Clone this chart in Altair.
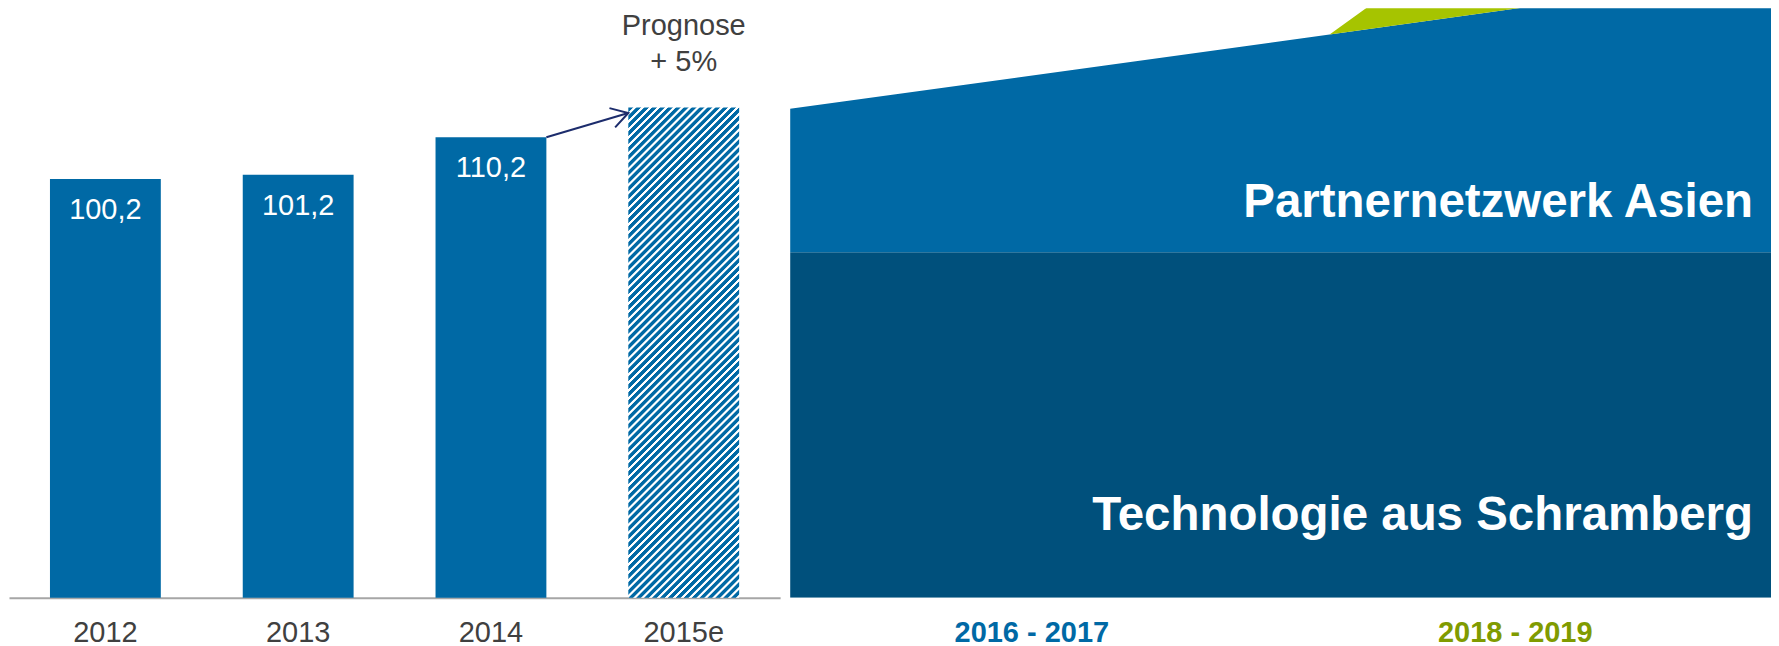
import math
import altair as alt
import pandas as pd

# ---------------- data ----------------
years = ["2012", "2013", "2014", "2015e"]
revenue = [100.2, 101.2, 110.2, 117.3]
is_forecast = [False, False, False, True]

forecast_note = "Prognose\n+ 5%"
arrow_from = "2014"
arrow_to = "2015e"
arrow_start = 110.2
arrow_end = 116.0

period_labels = ["2016 - 2017", "2018 - 2019"]
period_centers = [2017, 2019]

area_layers = ["Technologie aus Schramberg", "Partnernetzwerk Asien", "Ausbau"]
area_x = [2016, 2018.2, 2020]
tech_values = [82.7, 82.7, 82.7]
partner_values = [34.3, 52.1, 66.8]
green_values = [0.0, 0.0, 61.4]

# ---------------- style ----------------
FONT = "Liberation Sans"
BLUE = "#0069A5"
DARK = "#00507C"
GREEN = "#A6C400"
OLIVE = "#809B00"
LABEL_BLUE = "#0069A5"
GRAY_AXIS = "#A6A6A6"
TEXT = "#404040"
NAVY = "#1C2C6C"

Y_MAX = 141.05
PLOT_H = 590
LEFT_W = 772
RIGHT_W = 982
PAD_INNER = 0.425
PAD_OUTER = PAD_INNER / 2
LABEL_PAD = 21

# hatched fill for the forecast bar (diagonal stripes via a linear gradient)
px_per_unit = PLOT_H / Y_MAX
bar_w = (LEFT_W / len(years)) * (1 - PAD_INNER)
bar_h = revenue[-1] * px_per_unit
r = bar_w / bar_h
s = (r + 1) / (r * r + 1)
diag = (bar_w + bar_h) / math.sqrt(2)
n_stripes = int(round(diag / 5.6))
stops = []
for k in range(n_stripes):
    for frac, col in ((0.05, BLUE), (0.55, BLUE), (0.66, "#FFFFFF"), (0.94, "#FFFFFF")):
        stops.append(alt.GradientStop(offset=(k + frac) / n_stripes, color=col))
hatch = alt.LinearGradient(gradient="linear", stops=stops, x1=0, y1=0, x2=s * r, y2=s)

# arrow geometry (angle of the arrow in screen space)
step = LEFT_W / len(years)
dx_px = step * PAD_INNER
dy_px = (arrow_end - arrow_start) * px_per_unit
arrow_angle = (360 - math.degrees(math.atan2(dy_px, dx_px))) % 360

# ---------------- left chart ----------------
bars_df = pd.DataFrame({"year": years, "value": revenue, "forecast": is_forecast})
arrow_df = pd.DataFrame({"from": [arrow_from], "to": [arrow_to],
                         "start": [arrow_start], "end": [arrow_end]})
note_df = pd.DataFrame({"year": [years[-1]], "value": [revenue[-1]], "note": [forecast_note]})

x_scale = alt.Scale(type="band", domain=years, paddingInner=PAD_INNER, paddingOuter=PAD_OUTER)
y_scale = alt.Scale(domain=[0, Y_MAX], nice=False, zero=True)
x_axis = alt.Axis(title=None, labelAngle=0, ticks=False, tickSize=0, grid=False,
                  domain=True, domainColor=GRAY_AXIS, domainWidth=2,
                  labelFont=FONT, labelFontSize=29, labelColor=TEXT,
                  labelPadding=LABEL_PAD)


def xenc(field, **kw):
    return alt.X(field, type="nominal", scale=x_scale, sort=years, axis=x_axis, **kw)


yenc = alt.Y("value:Q", scale=y_scale, axis=None)

base = alt.Chart(bars_df)
actual_bars = base.transform_filter("!datum.forecast").mark_bar(color=BLUE).encode(
    x=xenc("year"), y=yenc)
forecast_bar = base.transform_filter("datum.forecast").mark_bar(fill=hatch, strokeWidth=0).encode(
    x=xenc("year"), y=yenc)
value_labels = base.transform_filter("!datum.forecast").transform_calculate(
    label="replace(format(datum.value, '.1f'), '.', ',')"
).mark_text(color="white", font=FONT, fontSize=29, dy=40, baseline="alphabetic").encode(
    x=xenc("year"), y=yenc, text="label:N")

arrow_line = alt.Chart(arrow_df).mark_rule(color=NAVY, strokeWidth=2).encode(
    x=xenc("from", bandPosition=1),
    x2=alt.X2("to", bandPosition=0),
    y=alt.Y("start:Q", scale=y_scale, axis=None),
    y2="end:Q",
)
arrow_head = alt.Chart(arrow_df).mark_point(
    shape="M-1,-0.6L0,0L-1,0.6", filled=False, stroke=NAVY, strokeWidth=2,
    size=1118, angle=arrow_angle, opacity=1,
).encode(
    x=xenc("to", bandPosition=0),
    y=alt.Y("end:Q", scale=y_scale, axis=None),
)
note = alt.Chart(note_df).mark_text(
    font=FONT, fontSize=29, color=TEXT, lineBreak="\n", lineHeight=36,
    baseline="alphabetic", dy=-73,
).encode(x=xenc("year"), y=yenc, text="note:N")

left = alt.layer(actual_bars, forecast_bar, value_labels, arrow_line, arrow_head, note).properties(
    width=LEFT_W, height=PLOT_H)

# ---------------- right chart ----------------
rows = []
for order, (name, vals) in enumerate(zip(area_layers, [tech_values, partner_values, green_values])):
    for xv, v in zip(area_x, vals):
        rows.append({"layer": name, "ord": order, "x": xv, "value": v})
area_df = pd.DataFrame(rows)

label_df = pd.DataFrame({
    "layer": area_layers[:2],
    "x": [area_x[-1], area_x[-1]],
    "base": [0.0, tech_values[-1]],
})

xr_scale = alt.Scale(domain=[area_x[0], area_x[-1]], nice=False, zero=False, padding=0)
split = (period_centers[0] + period_centers[1]) / 2
xr_axis = alt.Axis(
    title=None, values=period_centers, grid=False, ticks=False, tickSize=0, domain=False,
    labelExpr=f"datum.value < {split} ? '{period_labels[0]}' : '{period_labels[1]}'",
    labelFont=FONT, labelFontSize=29, labelFontWeight="bold",
    labelColor=alt.condition(f"datum.value < {split}", alt.value(LABEL_BLUE), alt.value(OLIVE)),
    labelOffset=alt.condition(f"datum.value < {split}", alt.value(-4), alt.value(-11)),
    labelPadding=LABEL_PAD, labelFlush=False, labelOverlap=False,
)

areas = alt.Chart(area_df).mark_area(clip=True, interpolate="linear").encode(
    x=alt.X("x:Q", scale=xr_scale, axis=xr_axis),
    y=alt.Y("value:Q", stack="zero", scale=y_scale, axis=None),
    color=alt.Color("layer:N", scale=alt.Scale(domain=area_layers, range=[DARK, BLUE, GREEN]),
                    legend=None),
    order=alt.Order("ord:Q"),
)

tech_label = alt.Chart(label_df).transform_filter(
    alt.datum.layer == area_layers[0]
).mark_text(font=FONT, fontSize=47.5, fontWeight="bold", color="white", align="right",
            baseline="alphabetic", dx=-18, dy=-68).encode(
    x=alt.X("x:Q", scale=xr_scale, axis=xr_axis),
    y=alt.Y("base:Q", scale=y_scale, axis=None),
    text="layer:N",
)
partner_label = alt.Chart(label_df).transform_filter(
    alt.datum.layer == area_layers[1]
).mark_text(font=FONT, fontSize=47.5, fontWeight="bold", color="white", align="right",
            baseline="alphabetic", dx=-18, dy=-35).encode(
    x=alt.X("x:Q", scale=xr_scale, axis=xr_axis),
    y=alt.Y("base:Q", scale=y_scale, axis=None),
    text="layer:N",
)

right = alt.layer(areas, tech_label, partner_label).properties(width=RIGHT_W, height=PLOT_H)

chart = alt.hconcat(left, right, spacing=10).properties(
    padding={"left": 1, "top": 0, "right": 0, "bottom": 0},
    background="white",
).configure_view(stroke="transparent", strokeWidth=0)

chart.save("out.html", embed_options={"renderer": "svg", "actions": False})
